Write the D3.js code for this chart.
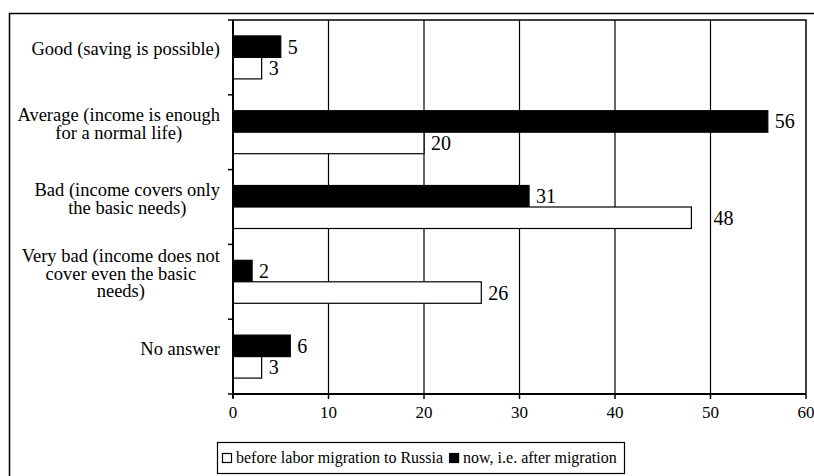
<!doctype html>
<html lang="en">
<head>
<meta charset="utf-8">
<title>Income assessment before and after migration</title>
<script src="https://cdn.jsdelivr.net/npm/d3@7"></script>
<style>
html, body { margin: 0; padding: 0; background: #fff; }
svg { display: block; }
</style>
</head>
<body>
<svg id="chart" width="814" height="476" font-family="Liberation Serif, DejaVu Serif, serif"></svg>
<script>
// data
const categories = [
  ["Good (saving is possible)"],
  ["Average (income is enough", "for a normal life)"],
  ["Bad (income covers only", "the basic needs)"],
  ["Very bad (income does not", "cover even the basic", "needs)"],
  ["No answer"]
];
const seriesNames = ["now, i.e. after migration", "before labor migration to Russia"];
const nowValues    = [5, 56, 31, 2, 6];
const beforeValues = [3, 20, 48, 26, 3];
const xTicks = [0, 10, 20, 30, 40, 50, 60];

const svg = d3.select("#chart");
const pLeft = 233, pRight = 806, pTop = 20, pBottom = 394;

// outer frame (runs past the right and bottom edge in the original)
svg.append("rect")
  .attr("x", 9.5).attr("y", 13.5)
  .attr("width", 900).attr("height", 600)
  .attr("fill", "none").attr("stroke", "#000").attr("stroke-width", 1.5);

const x = d3.scaleLinear().domain([0, 60]).range([pLeft, pRight]);
const y0 = d3.scaleBand().domain(d3.range(categories.length)).range([pTop, pBottom]);
const y1 = d3.scaleBand().domain(["now", "before"]).range([0, y0.bandwidth()]).paddingOuter(0.74);

// grid lines
svg.append("g").selectAll("line")
  .data(xTicks.slice(1, -1))
  .enter().append("line")
  .attr("x1", d => x(d)).attr("x2", d => x(d))
  .attr("y1", pTop).attr("y2", pBottom)
  .attr("stroke", "#000").attr("stroke-width", 1.2);

// plot frame top + right
svg.append("path")
  .attr("d", `M${pLeft},${pTop}H${pRight}V${pBottom}`)
  .attr("fill", "none").attr("stroke", "#000").attr("stroke-width", 1.5);

// bars
const rows = categories.map((c, i) => ({i, now: nowValues[i], before: beforeValues[i]}));
const grp = svg.append("g").selectAll("g")
  .data(rows).enter().append("g")
  .attr("transform", d => `translate(0,${y0(d.i)})`);

["now", "before"].forEach(k => {
  grp.append("rect")
    .attr("x", x(0))
    .attr("y", y1(k))
    .attr("width", d => x(d[k]) - x(0))
    .attr("height", y1.bandwidth())
    .attr("fill", k === "now" ? "#000" : "#fff")
    .attr("stroke", "#000").attr("stroke-width", 1.2);
  grp.append("text")
    .attr("y", y1(k) + y1.bandwidth() / 2 + 7)
    .attr("font-size", 20)
    .text(d => d[k])
    .attr("x", function(d) {
      // labels that would sit on a grid line are pushed past it
      let lx = x(d[k]) + 7;
      const w = this.getComputedTextLength();
      xTicks.slice(1, -1).forEach(t => {
        if (x(t) > lx - 2 && x(t) < lx + w + 2) lx = x(t) + 3;
      });
      return lx;
    });
});

// left axis
svg.append("line")
  .attr("x1", pLeft).attr("x2", pLeft).attr("y1", pTop).attr("y2", pBottom + 4)
  .attr("stroke", "#000").attr("stroke-width", 2);
svg.append("g").selectAll("line")
  .data(d3.range(categories.length + 1))
  .enter().append("line")
  .attr("x1", pLeft - 5).attr("x2", pLeft)
  .attr("y1", d => pTop + d * y0.step()).attr("y2", d => pTop + d * y0.step())
  .attr("stroke", "#000").attr("stroke-width", 1.5);

// bottom axis
svg.append("line")
  .attr("x1", pLeft).attr("x2", pRight).attr("y1", pBottom).attr("y2", pBottom)
  .attr("stroke", "#000").attr("stroke-width", 2);
svg.append("g").selectAll("line")
  .data(xTicks).enter().append("line")
  .attr("x1", d => x(d)).attr("x2", d => x(d))
  .attr("y1", pBottom).attr("y2", pBottom + 5)
  .attr("stroke", "#000").attr("stroke-width", 1.5);
svg.append("g").selectAll("text")
  .data(xTicks).enter().append("text")
  .attr("x", d => x(d)).attr("y", pBottom + 24)
  .attr("text-anchor", "middle")
  .attr("font-size", 17)
  .text(d => d);

// category labels: lines centred on the widest line, block right-aligned,
// sitting a little above the band centre like the original
const labelRight = 220, lineH = 17.5;
categories.forEach((lines, i) => {
  const g = svg.append("g");
  const cy = y0(i) + y0.bandwidth() / 2 - 8;
  const t = g.selectAll("text").data(lines).enter().append("text")
    .attr("font-size", 18.5)
    .attr("text-anchor", "middle")
    .attr("y", (d, j) => cy + (j - (lines.length - 1) / 2) * lineH + 6)
    .text(d => d);
  const w = d3.max(t.nodes(), n => n.getComputedTextLength());
  t.attr("x", labelRight - w / 2);
});

// legend
const lg = svg.append("g");
lg.append("rect")
  .attr("x", 217.5).attr("y", 442.5).attr("width", 407).attr("height", 31)
  .attr("fill", "#fff").attr("stroke", "#000").attr("stroke-width", 1.2);
let lx = 222;
[seriesNames[1], seriesNames[0]].forEach((name, j) => {
  lg.append("rect")
    .attr("x", lx + 0.5).attr("y", 453.5).attr("width", 9).attr("height", 9)
    .attr("fill", j === 0 ? "#fff" : "#000").attr("stroke", "#000").attr("stroke-width", 1.2);
  const t = lg.append("text")
    .attr("x", lx + 14).attr("y", 463)
    .attr("font-size", 16)
    .text(name);
  lx += 14 + t.node().getComputedTextLength() + 6;
});
</script>
</body>
</html>
